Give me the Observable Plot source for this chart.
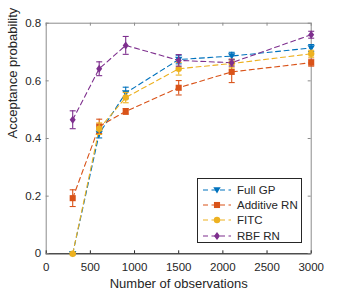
<!DOCTYPE html>
<html>
<head>
<meta charset="utf-8">
<script src="https://cdn.jsdelivr.net/npm/d3@7"></script>
<script src="https://cdn.jsdelivr.net/npm/@observablehq/plot@0.6"></script>
<style>
  body { margin: 0; background: #fff; }
  #wrap { position: relative; width: 343px; height: 295px; font-family: "Liberation Sans", Arial, sans-serif; }
  #legend { position: absolute; left: 197px; top: 178px; width: 105px; height: 65px; box-sizing: border-box;
    border: 1px solid #262626; background: #fff; font-size: 11.5px; color: #262626; }
  .row { position: absolute; left: 4px; height: 15px; display: flex; align-items: center; }
  .row svg { margin-right: 5px; }
</style>
</head>
<body>
<div id="wrap"><div id="legend"></div></div>
<script>
const observations = [300, 600, 900, 1500, 2100, 3000];
const seriesNames = ["Full GP", "Additive RN", "FITC", "RBF RN"];
const fullGP      = [0.000, 0.417, 0.558, 0.674, 0.686, 0.714];
const fullGPErr   = [0.003, 0.015, 0.020, 0.015, 0.013, 0.012];
const additiveRN  = [0.193, 0.442, 0.494, 0.576, 0.631, 0.663];
const additiveErr = [0.029, 0.025, 0.010, 0.025, 0.037, 0.012];
const fitc        = [0.000, 0.434, 0.542, 0.642, 0.660, 0.694];
const fitcErr     = [0.003, 0.020, 0.018, 0.022, 0.015, 0.012];
const rbfRN       = [0.465, 0.642, 0.723, 0.671, 0.663, 0.760];
const rbfErr      = [0.031, 0.024, 0.031, 0.020, 0.012, 0.012];
const xTicks = [0, 500, 1000, 1500, 2000, 2500, 3000];
const xTickLabels = ["0", "500", "1000", "1500", "2000", "2500", "3000"];
const yTicks = [0, 0.2, 0.4, 0.6, 0.8];
const yTickLabels = ["0", "0.2", "0.4", "0.6", "0.8"];

const colors = ["#0072BD", "#D95319", "#EDB120", "#7E2F8E"];
const values = [fullGP, additiveRN, fitc, rbfRN];
const errs = [fullGPErr, additiveErr, fitcErr, rbfErr];

const triDown = { draw(ctx, size) { const r = Math.sqrt(size / Math.PI) * 1.15; ctx.moveTo(-r, -r * 0.75); ctx.lineTo(r, -r * 0.75); ctx.lineTo(0, r * 0.95); ctx.closePath(); } };
const diamond = { draw(ctx, size) { const r = Math.sqrt(size / Math.PI) * 1.25; ctx.moveTo(0, -r); ctx.lineTo(r * 0.75, 0); ctx.lineTo(0, r); ctx.lineTo(-r * 0.75, 0); ctx.closePath(); } };
const square = { draw(ctx, size) { const r = Math.sqrt(size / Math.PI) * 0.95; ctx.rect(-r, -r, 2 * r, 2 * r); } };
const circle = { draw(ctx, size) { const r = Math.sqrt(size / Math.PI); ctx.moveTo(r, 0); ctx.arc(0, 0, r, 0, 2 * Math.PI); } };
const cap = { draw(ctx, size) { const r = Math.sqrt(size / Math.PI); ctx.moveTo(-r, 0); ctx.lineTo(r, 0); } };
const symbols = [triDown, square, circle, diamond];

const rows = [];
seriesNames.forEach((name, s) => {
  observations.forEach((x, i) => {
    rows.push({ series: name, s, x, y: values[s][i], lo: values[s][i] - errs[s][i], hi: values[s][i] + errs[s][i] });
  });
});

const W = 343, H = 295;
const mL = 45.7, mR = 32.3, mT = 22.7, mB = 41.7;
const fw = W - mL - mR, fh = H - mT - mB;
const textColor = "#262626";

const marks = [
  Plot.frame({ stroke: "#8c8c8c" }),
  Plot.ruleY([0], { stroke: "#262626" }),
  // inward ticks
  Plot.tickX(xTicks, { x: d => d, stroke: "#262626", insetTop: fh - 3 }),
  Plot.tickX(xTicks, { x: d => d, stroke: "#8c8c8c", insetBottom: fh - 3 }),
  Plot.tickY(yTicks, { y: d => d, stroke: "#8c8c8c", insetRight: fw - 3 }),
  Plot.tickY(yTicks, { y: d => d, stroke: "#8c8c8c", insetLeft: fw - 3 }),
  Plot.axisX(xTicks, { tickSize: 0, tickPadding: 9, fontSize: 11.5, fill: textColor, label: null, tickFormat: d => xTickLabels[xTicks.indexOf(d)] }),
  Plot.axisY(yTicks, { tickSize: 0, tickPadding: 5, fontSize: 11.5, fill: textColor, label: null, tickFormat: d => yTickLabels[yTicks.indexOf(d)] }),
];

seriesNames.forEach((name, s) => {
  const data = rows.filter(r => r.s === s);
  marks.push(
    Plot.line(data, { x: "x", y: "y", stroke: colors[s], strokeWidth: 1.1, strokeDasharray: "5,3.5" }),
  );
});
seriesNames.forEach((name, s) => {
  const data = rows.filter(r => r.s === s);
  marks.push(
    Plot.ruleX(data, { x: "x", y1: "lo", y2: "hi", stroke: colors[s], strokeWidth: 1.1 }),
    Plot.dot(data, { x: "x", y: "lo", symbol: cap, r: 3, stroke: colors[s], strokeWidth: 1.1, fill: "none" }),
    Plot.dot(data, { x: "x", y: "hi", symbol: cap, r: 3, stroke: colors[s], strokeWidth: 1.1, fill: "none" }),
    Plot.dot(data, { x: "x", y: "y", symbol: symbols[s], r: 3.2, fill: colors[s], stroke: "none" })
  );
});

marks.push(
  Plot.text(["Number of observations"], { frameAnchor: "bottom", dy: 34, fontSize: 13, fill: textColor }),
  Plot.text(["Acceptance probability"], { frameAnchor: "left", dx: -33, rotate: -90, fontSize: 13, fill: textColor })
);

const chart = Plot.plot({
  width: W, height: H,
  marginLeft: mL, marginRight: mR, marginTop: mT, marginBottom: mB,
  style: { fontFamily: "'Liberation Sans', Arial, sans-serif", color: textColor, background: "#fff", overflow: "visible" },
  x: { domain: [0, 3000] },
  y: { domain: [0, 0.8] },
  marks
});
document.getElementById("wrap").prepend(chart);

// legend
const legend = document.getElementById("legend");
seriesNames.forEach((name, s) => {
  const row = document.createElement("div");
  row.className = "row";
  row.style.top = (3.5 + s * 15.2) + "px";
  const svg = d3.create("svg").attr("width", 30).attr("height", 12);
  svg.append("line").attr("x1", 1).attr("x2", 29).attr("y1", 6).attr("y2", 6)
    .attr("stroke", colors[s]).attr("stroke-width", 1.1).attr("stroke-dasharray", "5,3.5");
  svg.append("path").attr("transform", "translate(15,6)")
    .attr("d", d3.symbol(symbols[s], Math.PI * 3.2 * 3.2)()).attr("fill", colors[s]);
  row.appendChild(svg.node());
  const t = document.createElement("span");
  t.textContent = name;
  row.appendChild(t);
  legend.appendChild(row);
});
</script>
</body>
</html>
